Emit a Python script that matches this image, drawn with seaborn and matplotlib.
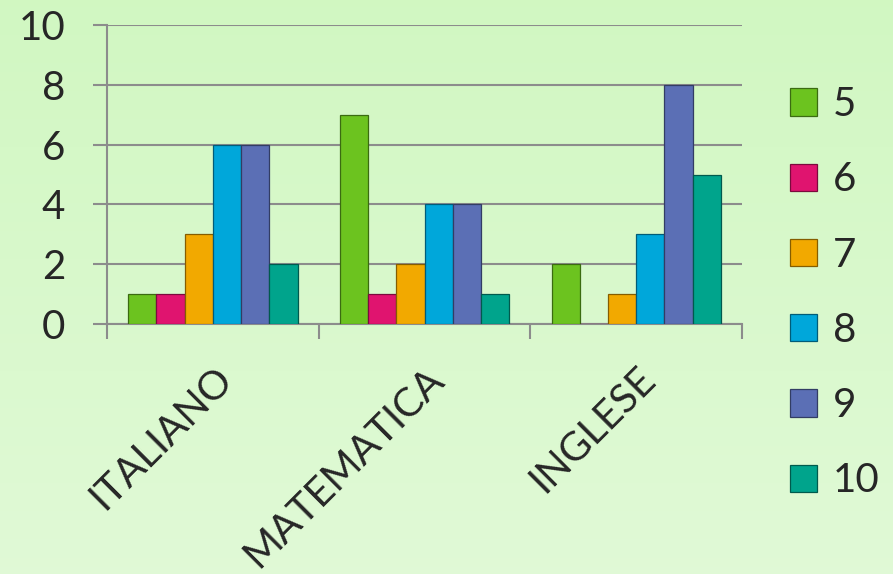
import numpy as np
import pandas as pd
import seaborn as sns
import matplotlib.pyplot as plt
import matplotlib.colors as mcolors

sns.set_style("white")
plt.rcParams['font.family'] = ['Lato', 'DejaVu Sans']

# dati del grafico
materie = ['ITALIANO', 'MATEMATICA', 'INGLESE']
voti = ['5', '6', '7', '8', '9', '10']
italiano = [1, 1, 3, 6, 6, 2]
matematica = [7, 1, 2, 4, 4, 1]
inglese = [2, 0, 1, 3, 8, 5]
colori = ['#6cc31f', '#e0146f', '#f2a900', '#00a7da', '#5b6fb5', '#00a48c']

rows = []
for materia, valori in zip(materie, [italiano, matematica, inglese]):
    for voto, v in zip(voti, valori):
        rows.append({'materia': materia, 'voto': voto, 'n': v})
df = pd.DataFrame(rows)

fig = plt.figure(figsize=(8.93, 5.74), dpi=100)

# sfondo sfumato verde chiaro
bg = fig.add_axes([0, 0, 1, 1], zorder=-10)
grad = np.linspace(0, 1, 256).reshape(-1, 1)
top = np.array([0.82, 0.97, 0.76])
bottom = np.array([0.88, 0.98, 0.84])
img = top + grad[:, :, None] * (bottom - top)
bg.imshow(img, aspect='auto', extent=[0, 1, 0, 1])
bg.axis('off')

ax = fig.add_axes([0.1198, 0.4355, 0.7112, 0.5209])
ax.set_facecolor('none')
sns.barplot(data=df, x='materia', y='n', hue='voto', palette=colori,
            width=0.8, gap=0, linewidth=0.9,
            saturation=1, ax=ax, zorder=3)

# bordi più scuri dello stesso colore
for p in ax.patches:
    r, g, b, a = p.get_facecolor()
    p.set_edgecolor((r * 0.55, g * 0.55, b * 0.55, 1))

ax.set_ylim(0, 10)
ax.set_xlim(-0.5, 2.5)
ax.set_yticks([0, 2, 4, 6, 8, 10])
ax.yaxis.grid(True, color='#8c8c8c', linewidth=1.5, zorder=0)
ax.set_axisbelow(True)
ax.set_xlabel('')
ax.set_ylabel('')

for s in ['top', 'right']:
    ax.spines[s].set_visible(False)
for s in ['left', 'bottom']:
    ax.spines[s].set_color('#8c8c8c')
    ax.spines[s].set_linewidth(1.5)

ax.tick_params(axis='y', which='major', length=10, width=1.5, color='#8c8c8c',
               labelsize=29, pad=20, left=True)
ax.set_xticks([-0.5, 0.5, 1.5, 2.5], minor=True)
ax.tick_params(axis='x', which='minor', length=11, width=1.5, color='#8c8c8c', bottom=True)
ax.tick_params(axis='x', which='major', length=0, labelsize=29, pad=26)
plt.setp(ax.get_xticklabels(), rotation=45, ha='right', rotation_mode='anchor')

ax.legend(loc='center left', bbox_to_anchor=(0.8847, 0.49),
          bbox_transform=fig.transFigure, frameon=False,
          fontsize=29, handlelength=0.67, handleheight=0.67,
          labelspacing=0.95, handletextpad=0.4, borderpad=0, borderaxespad=0,
          title=None)

fig.savefig('out.png', dpi=100)
